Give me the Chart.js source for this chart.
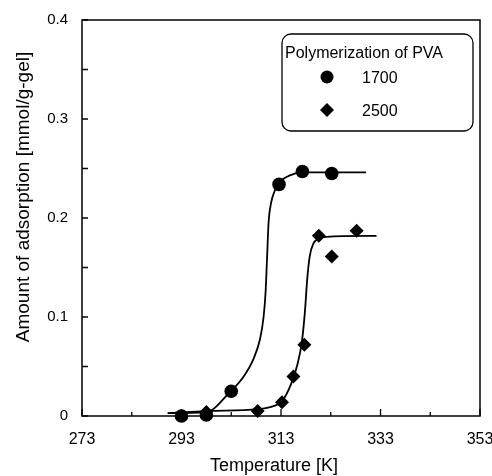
<!DOCTYPE html>
<html>
<head>
<meta charset="utf-8">
<script src="https://cdn.jsdelivr.net/npm/chart.js@4"></script>
<style>
  body { margin: 0; background: #fff; }
</style>
</head>
<body>
<canvas id="myChart" width="492" height="476"></canvas>
<script>
// measured points
let temp1700 = [293, 298, 303, 312.6, 317.3, 323.2]
let ads1700 = [0.000, 0.001, 0.025, 0.234, 0.247, 0.245]
let temp2500 = [298, 308.3, 313.2, 315.5, 317.7, 320.6, 323.2, 328.2]
let ads2500 = [0.004, 0.005, 0.014, 0.040, 0.072, 0.182, 0.161, 0.187]

// fitted curves
let fitT1700 = [290.2, 298, 302.7, 305.5, 307.5, 308.8, 309.5, 309.9, 310.2, 310.5, 311.0, 311.7, 312.5, 314.8, 317.2, 322.9, 330.1]
let fitA1700 = [0.003, 0.004, 0.024, 0.040, 0.058, 0.078, 0.100, 0.125, 0.160, 0.195, 0.215, 0.227, 0.235, 0.243, 0.246, 0.246, 0.246]
let fitT2500 = [290.4, 298, 308.3, 310.8, 313.2, 315.0, 316.3, 317.2, 317.8, 318.3, 318.8, 319.5, 320.5, 322.1, 332.2]
let fitA2500 = [0.003, 0.005, 0.007, 0.009, 0.015, 0.032, 0.052, 0.075, 0.105, 0.140, 0.162, 0.174, 0.179, 0.181, 0.182]

let seriesNames = ["1700", "2500"]
let legendTitle = "Polymerization of PVA"
let xTitle = "Temperature [K]"
let yTitle = "Amount of adsorption [mmol/g-gel]"

let xTicks = [273, 283, 293, 303, 313, 323, 333, 343, 353]
let xTickLabels = ["273", "", "293", "", "313", "", "333", "", "353"]
let yTicks = [0, 0.05, 0.1, 0.15, 0.2, 0.25, 0.3, 0.35, 0.4]
let yTickLabels = ["0", "", "0.1", "", "0.2", "", "0.3", "", "0.4"]

let FONT = "'Liberation Sans', Arial, Helvetica, sans-serif"

const zip = (xs, ys) => xs.map((x, i) => ({x: x, y: ys[i]}))

// frame, inward ticks, axis titles and the boxed legend
const decorations = {
    id: "decorations",
    afterDraw(chart) {
        const c = chart.ctx
        const a = chart.chartArea
        const xs = chart.scales.x
        const ys = chart.scales.y
        c.save()
        c.strokeStyle = "#000"
        c.lineWidth = 1.5
        c.strokeRect(a.left, a.top, a.right - a.left, a.bottom - a.top)

        c.lineWidth = 1.3
        c.beginPath()
        xTicks.forEach((v, i) => {
            const px = xs.getPixelForValue(v)
            const len = xTickLabels[i] ? 7 : 4
            c.moveTo(px, a.bottom)
            c.lineTo(px, a.bottom - len)
        })
        yTicks.forEach((v) => {
            const py = ys.getPixelForValue(v)
            c.moveTo(a.left, py)
            c.lineTo(a.left + 6, py)
        })
        c.stroke()

        c.fillStyle = "#000"
        c.textAlign = "center"
        c.textBaseline = "middle"
        c.font = "18px " + FONT
        c.fillText(xTitle, 274, 466)

        c.save()
        c.translate(24, 197)
        c.rotate(-Math.PI / 2)
        c.font = "19px " + FONT
        c.fillText(yTitle, 0, 0)
        c.restore()

        // legend box
        c.lineWidth = 1.3
        c.beginPath()
        c.roundRect(282, 34, 191, 97, 9)
        c.stroke()
        c.font = "16px " + FONT
        c.textAlign = "left"
        c.textBaseline = "alphabetic"
        c.fillText(legendTitle, 285, 58)

        c.beginPath()
        c.arc(327, 77, 6.5, 0, Math.PI * 2)
        c.fill()
        c.fillText(seriesNames[0], 362, 83)

        c.beginPath()
        c.moveTo(327, 103)
        c.lineTo(334, 110)
        c.lineTo(327, 117)
        c.lineTo(320, 110)
        c.closePath()
        c.fill()
        c.fillText(seriesNames[1], 362, 116)
        c.restore()
    }
}

let ctx = document.getElementById("myChart").getContext("2d")

let myChart = new Chart(ctx, {
    type: "scatter",
    data: {
        datasets: [
            {
                label: seriesNames[0],
                data: zip(temp1700, ads1700),
                pointStyle: "circle",
                pointRadius: 6.8,
                backgroundColor: "#000",
                borderColor: "#000",
                borderWidth: 0,
                clip: false,
            },
            {
                label: seriesNames[1],
                data: zip(temp2500, ads2500),
                pointStyle: "rectRot",
                pointRadius: 7,
                backgroundColor: "#000",
                borderColor: "#000",
                borderWidth: 0,
                clip: false,
            },
            {
                label: "fit 1700",
                data: zip(fitT1700, fitA1700),
                showLine: true,
                pointRadius: 0,
                borderColor: "#000",
                borderWidth: 1.8,
                cubicInterpolationMode: "monotone",
            },
            {
                label: "fit 2500",
                data: zip(fitT2500, fitA2500),
                showLine: true,
                pointRadius: 0,
                borderColor: "#000",
                borderWidth: 1.8,
                cubicInterpolationMode: "monotone",
            },
        ],
    },
    options: {
        responsive: false,
        animation: false,
        layout: {
            padding: {left: 0, top: 20, right: 12, bottom: 0},
        },
        plugins: {
            legend: {display: false},
            tooltip: {enabled: false},
        },
        scales: {
            x: {
                type: "linear",
                min: 273,
                max: 353,
                afterBuildTicks: (scale) => {
                    scale.ticks = xTicks.map(v => ({value: v}))
                },
                afterFit: (scale) => {
                    scale.height = 60
                    scale.paddingLeft = 0
                    scale.paddingRight = 0
                },
                grid: {display: false, drawTicks: false},
                border: {display: false},
                ticks: {
                    color: "#000",
                    padding: 14,
                    maxRotation: 0,
                    autoSkip: false,
                    font: {family: FONT, size: 16},
                    callback: (v, i) => xTickLabels[i],
                },
            },
            y: {
                type: "linear",
                min: 0,
                max: 0.4,
                afterBuildTicks: (scale) => {
                    scale.ticks = yTicks.map(v => ({value: v}))
                },
                afterFit: (scale) => {
                    scale.width = 82
                    scale.paddingTop = 0
                    scale.paddingBottom = 0
                },
                grid: {display: false, drawTicks: false},
                border: {display: false},
                ticks: {
                    color: "#000",
                    padding: 14,
                    autoSkip: false,
                    font: {family: FONT, size: 15},
                    callback: (v, i) => yTickLabels[i],
                },
            },
        },
    },
    plugins: [decorations],
})
</script>
</body>
</html>
